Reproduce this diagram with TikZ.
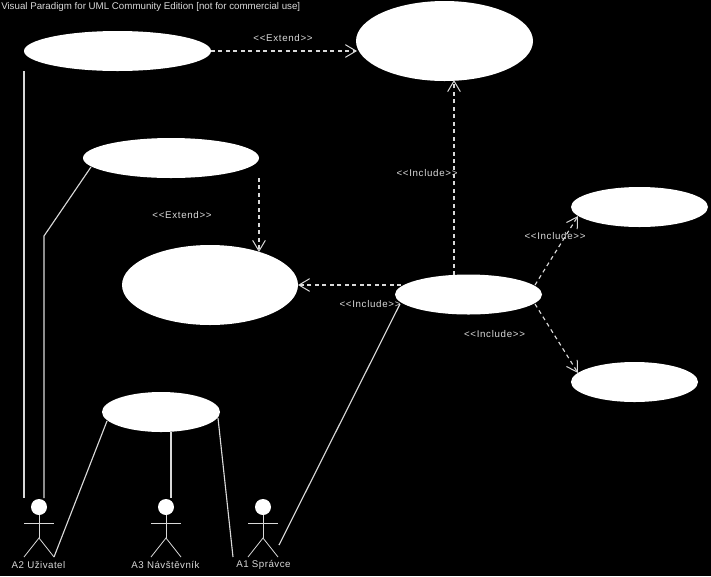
\documentclass[tikz,border=0pt]{standalone}
\usepackage{fontspec}
\setmainfont{Liberation Sans}
\newfontfamily\stereofont[LetterSpace=7]{Liberation Sans}
\newfontfamily\actorfont[LetterSpace=5]{Liberation Sans}
\usetikzlibrary{shapes.geometric,arrows.meta}
\definecolor{linecol}{gray}{0.85}
\tikzset{
  x=0.75pt,y=-0.75pt,
  usecase/.style={ellipse,fill=white,draw=none,inner sep=0pt,outer sep=0pt,anchor=center},
  assoc/.style={draw=linecol,line width=0.85pt},
  dep/.style={draw=linecol,line width=0.85pt,dash pattern=on 3pt off 2.6pt,-{Straight Barb[length=8pt,width=9.5pt,line width=0.75pt]}},
  lbl/.style={text=linecol,font=\fontsize{7.3}{8}\selectfont,inner sep=0pt,anchor=center},
  stereolbl/.style={lbl,font=\fontsize{7.3}{8}\stereofont},
  actorlbl/.style={lbl,font=\fontsize{7.3}{8}\actorfont},
  actorhead/.style={circle,fill=white,draw=none,minimum size=12pt,inner sep=0pt,outer sep=0pt},
  limb/.style={draw=linecol,line width=0.6pt}
}
\newcommand{\actor}[2]{%
  \node[actorhead] (#2head) at (#1,507) {};
  \coordinate (#2hip) at (#1,538);
  \coordinate (#2la) at (#1-15,523);
  \coordinate (#2ra) at (#1+15,523);
  \coordinate (#2ll) at (#1-15,557);
  \coordinate (#2rl) at (#1+15,557);
  \draw[limb] (#2head) -- (#2hip);
  \draw[limb] (#2la) -- (#2ra);
  \draw[limb] (#2ll) -- (#2hip) -- (#2rl);
}
\begin{document}
\begin{tikzpicture}
\fill[black] (0,0) rectangle (711,576);
\useasboundingbox (0,0) rectangle (711,576);
\node[usecase,minimum width=140.25pt,minimum height=30pt] (e1) at (117.5,51) {};
\node[usecase,minimum width=132.75pt,minimum height=60pt] (e2) at (444.5,41) {};
\node[usecase,minimum width=132pt,minimum height=30pt] (e3) at (171,158) {};
\node[usecase,minimum width=132pt,minimum height=60pt] (e4) at (210,285) {};
\node[usecase,minimum width=110.25pt,minimum height=30pt] (e5) at (468.5,294.5) {};
\node[usecase,minimum width=102.75pt,minimum height=30pt] (e6) at (639.5,207) {};
\node[usecase,minimum width=95.25pt,minimum height=30pt] (e7) at (634.5,382) {};
\node[usecase,minimum width=88.5pt,minimum height=30pt] (e8) at (161,412) {};
\actor{39}{u}
\actor{166}{n}
\actor{263}{s}
\coordinate (uend1) at (24,498);
\coordinate (e1low) at (24,71);
\coordinate (bend) at (44,236);
\coordinate (uend2) at (44,498);
\coordinate (nend) at (171,498);
\coordinate (e8bot) at (171,432);
\coordinate (send) at (233,557);
\coordinate (e8r) at (218,418);
\coordinate (e8l) at (107,421);
\coordinate (send2) at (279,545);
\coordinate (e5ll) at (400,304);
\coordinate (e3low) at (91,167);
\draw[assoc] (e1low) -- (uend1);
\draw[assoc] (e3low) -- (bend) -- (uend2);
\draw[assoc] (e8l) -- (url);
\draw[assoc] (e8bot) -- (nend);
\draw[assoc] (e8r) -- (send);
\draw[assoc] (e5ll) -- (send2);
\coordinate (e3d) at (259,178);
\coordinate (e4t) at (259,252);
\coordinate (e5l) at (401,285);
\coordinate (e5t) at (454,275);
\coordinate (e2b) at (454,80);
\coordinate (e5ur) at (535,285);
\coordinate (e6l) at (578,216);
\coordinate (e5lr) at (535,304);
\coordinate (e7l) at (578,373);
\coordinate (e2l) at (357,51);
\coordinate (e4r) at (298,285);
\draw[dep] (e1.east) -- (e2l);
\draw[dep] (e3d) -- (e4t);
\draw[dep] (e5l) -- (e4r);
\draw[dep] (e5t) -- (e2b);
\draw[dep] (e5ur) -- (e6l);
\draw[dep] (e5lr) -- (e7l);
\node[stereolbl] (l1) at (283,38) {<{}<Extend>{}>};
\node[stereolbl] (l2) at (182,215) {<{}<Extend>{}>};
\node[stereolbl] (l3) at (427,173) {<{}<Include>{}>};
\node[stereolbl] (l4) at (555,236) {<{}<Include>{}>};
\node[stereolbl] (l5) at (370,304) {<{}<Include>{}>};
\node[stereolbl] (l6) at (494.5,334) {<{}<Include>{}>};
\node[lbl,anchor=west] (title) at (1,6.5) {Visual Paradigm for UML Community Edition [not for commercial use]};
\node[actorlbl] (a1) at (38.5,565) {A2 Uživatel};
\node[actorlbl] (a2) at (165.5,565) {A3 Návštěvník};
\node[actorlbl] (a3) at (263.5,565) {A1 Správce};
\end{tikzpicture}
\end{document}
